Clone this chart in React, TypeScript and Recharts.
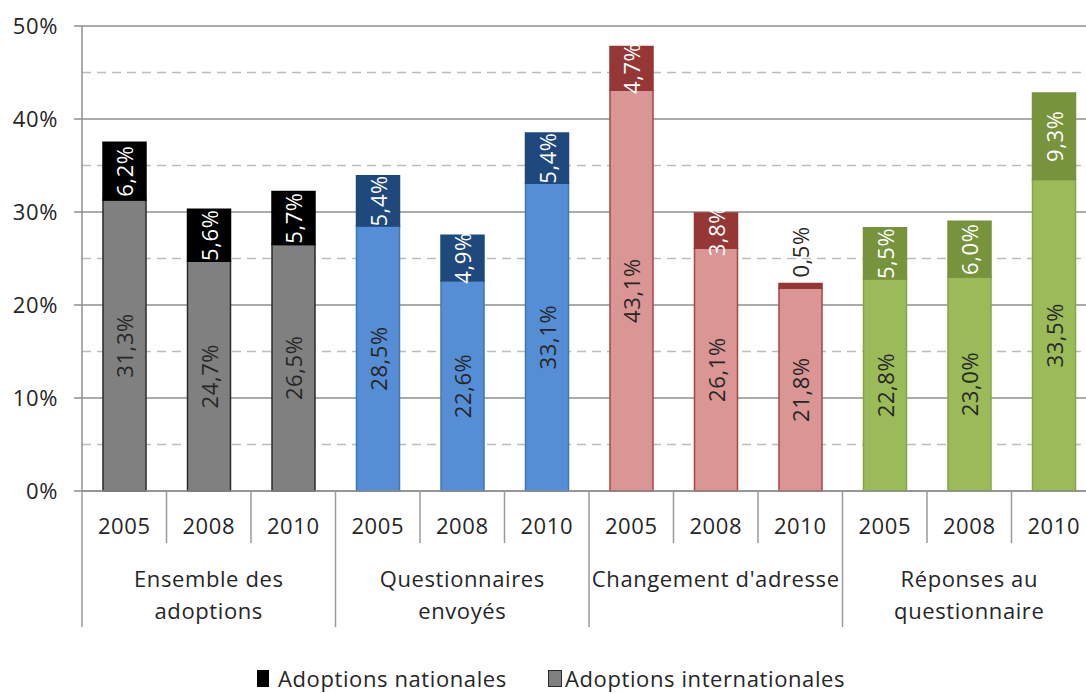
import React from 'react';
import { BarChart, Bar, XAxis, YAxis, CartesianGrid, Legend, Cell, LabelList } from 'recharts';

const years = ['2005', '2008', '2010', '2005', '2008', '2010', '2005', '2008', '2010', '2005', '2008', '2010'];
const groupLabels = [
  ['Ensemble des', 'adoptions'],
  ['Questionnaires', 'envoyés'],
  ["Changement d'adresse"],
  ['Réponses au', 'questionnaire'],
];
const internationales = [31.3, 24.7, 26.5, 28.5, 22.6, 33.1, 43.1, 26.1, 21.8, 22.8, 23.0, 33.5];
const nationales = [6.2, 5.6, 5.7, 5.4, 4.9, 5.4, 4.7, 3.8, 0.5, 5.5, 6.0, 9.3];
const yTicks = [0, 10, 20, 30, 40, 50];
const minorTicks = [5, 15, 25, 35, 45];
const seriesNames = ['Adoptions nationales', 'Adoptions internationales'];

const intlFill = ['#808080', '#558ed5', '#d99694', '#9bbb59'];
const intlStroke = ['#2a2a2a', '#4275b8', '#a84542', '#86a448'];
const natFill = ['#000000', '#1f497d', '#953735', '#77933c'];
const natStroke = ['#000000', '#1f497d', '#953735', '#77933c'];

const data = years.map((y, i) => ({
  year: y,
  group: Math.floor(i / 3),
  intl: internationales[i],
  nat: nationales[i],
}));

const FONT = '"Open Sans", "Noto Sans", sans-serif';
const FS = 22;
const LS = 0.6;
const TEXT = '#262626';
const CHART_W = 1100;
const MARGIN_R = 4;
const YAXIS_W = 82;
const PLOT_W = CHART_W - MARGIN_R - YAXIS_W;
const SLOT = PLOT_W / years.length;
const LEGEND_H = 26;

const fmt = (v: number) => v.toFixed(1).replace('.', ',') + '%';

const IntlLabel = (props: any) => {
  const { x, y, width, height, value } = props;
  const cx = x + width / 2;
  const cy = y + height / 2;
  return (
    <text x={cx} y={cy} transform={`rotate(-90 ${cx} ${cy})`} textAnchor="middle" dominantBaseline="central"
      fontFamily={FONT} fontSize={FS} letterSpacing={LS} fill={TEXT}>{fmt(value)}</text>
  );
};

const NatLabel = (props: any) => {
  const { x, y, width, height, value } = props;
  const cx = x + width / 2;
  if (value < 1) {
    const cy = y - 6;
    return (
      <text x={cx} y={cy} transform={`rotate(-90 ${cx} ${cy})`} textAnchor="start" dominantBaseline="central"
        fontFamily={FONT} fontSize={FS} letterSpacing={LS} fill={TEXT}>{fmt(value)}</text>
    );
  }
  const cy = y + height / 2;
  return (
    <text x={cx} y={cy} transform={`rotate(-90 ${cx} ${cy})`} textAnchor="middle" dominantBaseline="central"
      fontFamily={FONT} fontSize={FS} letterSpacing={LS} fill="#ffffff">{fmt(value)}</text>
  );
};

const CategoryTick = (props: any) => {
  const { x, y, payload, index } = props;
  const i = typeof index === 'number' ? index : payload.index;
  const left = x - SLOT / 2;
  const right = x + SLOT / 2;
  const g = Math.floor(i / 3);
  const isGroupStart = i % 3 === 0;
  const lines = groupLabels[g];
  return (
    <g>
      <line x1={left} x2={left} y1={y} y2={y + (isGroupStart ? 136 : 52)} stroke="#9a9a9a" strokeWidth={1.5} />
      {i === years.length - 1 && (
        <line x1={right} x2={right} y1={y} y2={y + 136} stroke="#9a9a9a" strokeWidth={1.5} />
      )}
      <text x={x} y={y + 34} textAnchor="middle" dominantBaseline="central" fontFamily={FONT} fontSize={FS} letterSpacing={LS} fill={TEXT}>
        {payload.value}
      </text>
      {i % 3 === 1 && lines.map((ln, k) => (
        <text key={k} x={x} y={y + 87 + k * 32} textAnchor="middle" dominantBaseline="central" fontFamily={FONT} fontSize={FS} letterSpacing={LS} fill={TEXT}>
          {ln}
        </text>
      ))}
    </g>
  );
};

const LegendContent = () => (
  <div style={{ position: 'relative', fontFamily: FONT, fontSize: FS, letterSpacing: LS, color: TEXT, whiteSpace: 'nowrap', height: LEGEND_H, lineHeight: `${LEGEND_H}px` }}>
    <div style={{ position: 'absolute', left: 0, top: 0, height: LEGEND_H, display: 'flex', alignItems: 'center' }}>
      <span style={{ display: 'inline-block', width: 12, height: 17, background: '#000', marginRight: 9 }} />
      <span>{seriesNames[0]}</span>
    </div>
    <div style={{ position: 'absolute', left: 291, top: 0, height: LEGEND_H, display: 'flex', alignItems: 'center' }}>
      <span style={{ display: 'inline-block', width: 12, height: 15, background: '#808080', border: '1.5px solid #2a2a2a', marginRight: 3 }} />
      <span>{seriesNames[1]}</span>
    </div>
  </div>
);

export default function App() {
  return (
    <div style={{ position: 'fixed', left: 0, top: 0, width: 1086, height: 693, overflow: 'hidden', background: '#fff' }}>
      <BarChart width={CHART_W} height={693} data={data} margin={{ top: 26, right: MARGIN_R, left: 0, bottom: 0 }} barSize={43}>
        <CartesianGrid vertical={false} horizontalValues={minorTicks} stroke="#bcbcbc" strokeWidth={1.5} strokeDasharray="9 6" />
        <CartesianGrid vertical={false} horizontalValues={yTicks} stroke="#8f8f8f" strokeWidth={1.5} />
        <YAxis
          domain={[0, 50]}
          ticks={yTicks}
          width={YAXIS_W}
          tickFormatter={(v: number) => v + '%'}
          axisLine={{ stroke: '#8f8f8f', strokeWidth: 1.5 }}
          tickLine={{ stroke: '#8f8f8f', strokeWidth: 1.5 }}
          tickSize={8}
          tickMargin={16}
          tick={{ fontFamily: FONT, fontSize: FS, letterSpacing: LS, fill: TEXT }}
          interval={0}
        />
        <XAxis
          dataKey="year"
          interval={0}
          height={202 - LEGEND_H}
          tickSize={0}
          tickMargin={0}
          tickLine={false}
          axisLine={{ stroke: '#8f8f8f', strokeWidth: 1.5 }}
          tick={<CategoryTick />}
        />
        <Legend
          verticalAlign="bottom"
          content={<LegendContent />}
          wrapperStyle={{ left: 257, top: 665, width: 640, height: LEGEND_H }}
        />
        <Bar dataKey="intl" stackId="a" name={seriesNames[1]} isAnimationActive={false} strokeWidth={1.5}>
          {data.map((d, i) => (
            <Cell key={i} fill={intlFill[d.group]} stroke={intlStroke[d.group]} />
          ))}
          <LabelList dataKey="intl" content={<IntlLabel />} />
        </Bar>
        <Bar dataKey="nat" stackId="a" name={seriesNames[0]} isAnimationActive={false} strokeWidth={1.5}>
          {data.map((d, i) => (
            <Cell key={i} fill={natFill[d.group]} stroke={natStroke[d.group]} />
          ))}
          <LabelList dataKey="nat" content={<NatLabel />} />
        </Bar>
      </BarChart>
    </div>
  );
}
